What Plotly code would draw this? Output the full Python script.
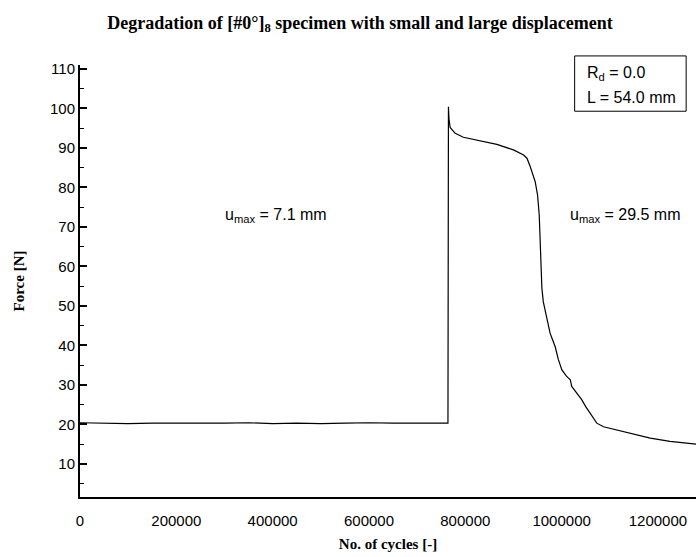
import plotly.graph_objects as go

# cycles and force
cycles = [0, 50000, 100000, 150000, 200000, 250000, 300000, 350000, 400000,
          450000, 500000, 550000, 600000, 650000, 700000, 740000, 764000,
          765000, 766000, 768500, 779000, 796000, 831000, 865500, 900000,
          921000, 928000, 934700, 945000, 950000, 953500, 955500, 956000,
          957000, 959000, 962000, 966000, 971000, 976000, 981000, 986500,
          993000, 1000500, 1010000, 1018000, 1021000, 1030000, 1042000,
          1050000, 1059000, 1066000, 1073000, 1087000, 1115000, 1142000,
          1184000, 1225000, 1273000, 1280000]
force = [20.4, 20.3, 20.2, 20.3, 20.3, 20.2, 20.3, 20.4, 20.2,
         20.3, 20.2, 20.3, 20.4, 20.3, 20.2, 20.3, 20.3,
         100.4, 97.5, 95.2, 93.7, 92.7, 91.8, 90.9, 89.5,
         88.2, 87.4, 85.3, 81.5, 78.1, 73.0, 66.0, 62.0,
         58.0, 54.5, 51.0, 48.5, 45.5, 43.1, 41.5, 39.7,
         36.5, 33.8, 32.2, 31.3, 29.6, 28.2, 26.2,
         24.5, 22.8, 21.3, 20.3, 19.4, 18.6, 17.8,
         16.5, 15.7, 15.1, 15.0]

x_ticks = [0, 200000, 400000, 600000, 800000, 1000000, 1200000]
y_ticks = [10, 20, 30, 40, 50, 60, 70, 80, 90, 100, 110]

serif = "Liberation Serif, Times New Roman, serif"
sans = "Liberation Sans, Arial, sans-serif"

fig = go.Figure()
fig.add_trace(go.Scatter(x=cycles, y=force, mode="lines",
                         line=dict(color="black", width=1.2), showlegend=False))

fig.update_layout(
    width=696, height=557,
    margin=dict(l=80, r=0, t=65, b=60),
    plot_bgcolor="white", paper_bgcolor="white",
    font=dict(family=sans, size=15, color="black"),
    title=dict(text="<b>Degradation of [#0°]<sub>8</sub> specimen with small and large displacement</b>",
               x=0.4545, xref="paper", xanchor="center", y=0.960, yanchor="middle",
               font=dict(family=serif, size=18)),
)
fig.update_xaxes(
    range=[0, 1279000], tickvals=x_ticks, ticktext=[str(v) for v in x_ticks],
    showgrid=False, zeroline=False, showline=True, linecolor="black", linewidth=2,
    ticks="", ticklabelstandoff=9, automargin=False,
    title=dict(text="<b>No. of cycles [-]</b>", standoff=10,
               font=dict(family=serif, size=15)),
)
fig.update_yaxes(
    range=[1.6, 111], tickvals=y_ticks, showgrid=False, zeroline=False,
    showline=True, linecolor="black", linewidth=2, automargin=False,
    ticks="inside", ticklen=7, tickwidth=1.5, tickcolor="black",
    minor=dict(ticks="inside", ticklen=4, tickwidth=1, tickcolor="black", dtick=5, tick0=5),
    title=dict(text="<b>Force [N]</b>", standoff=22,
               font=dict(family=serif, size=15)),
)

fig.add_annotation(text="u<sub style='font-size:10px'>max</sub> = 7.1 mm", x=407000, y=73,
                   showarrow=False, font=dict(size=16))
fig.add_annotation(text="u<sub style='font-size:10px'>max</sub> = 29.5 mm", x=1132000, y=73,
                   showarrow=False, font=dict(size=16))

# parameter box
fig.add_shape(type="rect", xref="paper", yref="paper", x0=0.803, x1=0.984, y0=0.893, y1=1.021,
              line=dict(color="black", width=1), fillcolor="white", layer="above")
fig.add_annotation(text="R<sub style='font-size:10px'>d</sub> = 0.0", xref="paper", yref="paper",
                   x=0.819, y=0.981, xanchor="left", yanchor="middle", showarrow=False,
                   font=dict(size=16))
fig.add_annotation(text="L = 54.0 mm", xref="paper", yref="paper",
                   x=0.819, y=0.924, xanchor="left", yanchor="middle", showarrow=False,
                   font=dict(size=16))

# drop the default page margin so the figure sits at the window's corner
fig.write_html("out.html", config={"displayModeBar": False},
               post_script="document.body.style.margin='0';")
